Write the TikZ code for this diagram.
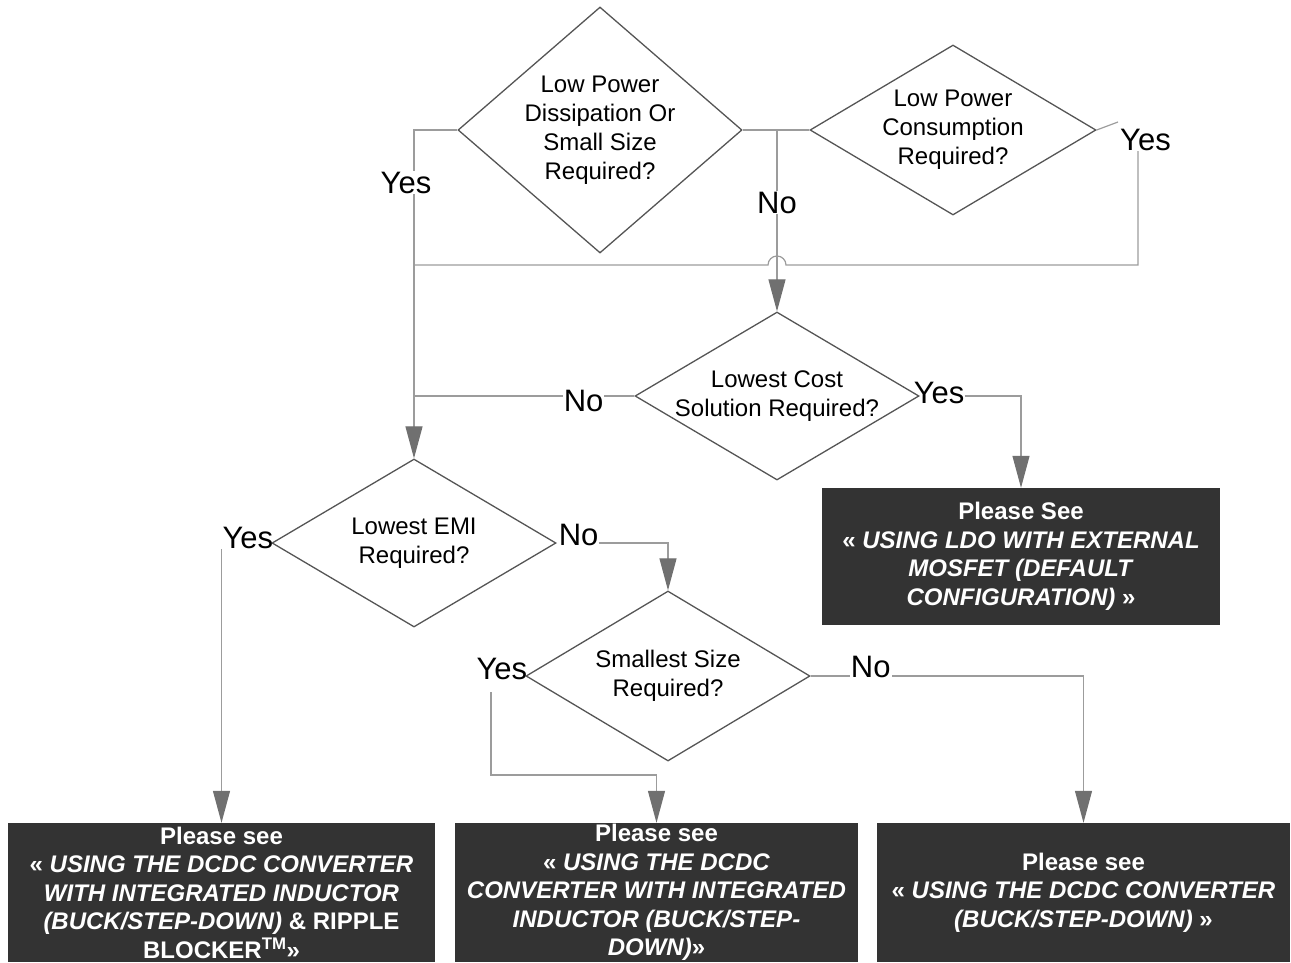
\documentclass[tikz,border=0pt]{standalone}
\usepackage{fontspec}
\setmainfont{Liberation Sans}
\usetikzlibrary{shapes.geometric,arrows.meta,positioning}
\definecolor{boxgray}{HTML}{333333}
\definecolor{linegray}{HTML}{9C9C9C}
\definecolor{edgegray}{HTML}{555555}
\definecolor{tipgray}{HTML}{707070}

\begin{document}
\begin{tikzpicture}[x=1pt, y=-1pt,
    decision/.style={diamond, draw=edgegray, line width=1.3pt, inner sep=0pt, aspect=1.68,
        align=center, font=\fontsize{24}{29}\selectfont},
    seebox/.style={rectangle, fill=boxgray, text=white, inner sep=0pt, align=center,
        font=\fontsize{24}{28.5}\selectfont\bfseries},
    conn/.style={draw=linegray, line width=1.2pt},
    arr/.style={-{Triangle[length=32pt, width=17pt, fill=tipgray, color=tipgray]}},
    ans/.style={font=\fontsize{31}{34}\selectfont, inner sep=1pt}]
    \useasboundingbox (0,0) rectangle (1291,962);

    % Decisions
    \node[decision, aspect=1.15, minimum width=284pt, minimum height=246pt] (dis) at (600,130)
        {Low Power\\Dissipation Or\\Small Size\\Required?};
    \node[decision, minimum width=286pt, minimum height=170pt] (cons) at (953,130)
        {Low Power\\Consumption\\Required?};
    \node[decision, minimum width=284pt, minimum height=168pt, inner sep=-3pt] (cost) at (777,396)
        {Lowest Cost\\Solution Required?};
    \node[decision, minimum width=284pt, minimum height=168pt] (emi) at (414,543)
        {Lowest EMI\\Required?};
    \node[decision, minimum width=284pt, minimum height=170pt] (size) at (668,676)
        {Smallest Size\\Required?};

    % Result boxes
    \node[seebox, minimum width=398pt, minimum height=137pt] (ldo) at (1021,556.5)
        {Please See\\« \textit{USING LDO WITH EXTERNAL}\\\textit{MOSFET (DEFAULT}\\\textit{CONFIGURATION)} »};
    \node[seebox, minimum width=427pt, minimum height=139pt] (buckrb) at (221.5,892.5)
        {Please see\\« \textit{USING THE DCDC CONVERTER}\\\textit{WITH INTEGRATED INDUCTOR}\\\textit{(BUCK/STEP-DOWN)} \& RIPPLE\\BLOCKER\textsuperscript{TM}»};
    \node[seebox, minimum width=403pt, minimum height=139pt] (buckind) at (656.5,892.5)
        {Please see\\« \textit{USING THE DCDC}\\\textit{CONVERTER WITH INTEGRATED}\\\textit{INDUCTOR (BUCK/STEP-}\\\textit{DOWN)}»};
    \node[seebox, minimum width=413pt, minimum height=139pt] (buck) at (1083.5,892.5)
        {Please see\\« \textit{USING THE DCDC CONVERTER}\\\textit{(BUCK/STEP-DOWN)} »};

    % Coordinates
    \coordinate (split) at (777,130);
    \coordinate (consTip) at (1118,122);
    \coordinate (back) at (1138,265);
    \coordinate (hop) at (786,265);
    \coordinate (ysz) at (491,692);
    \coordinate (ysz2) at (491,775);

    % --- Top row ---
    \draw[conn] (dis.east) -- (cons.west);
    \draw[conn, arr] (split) -- node[ans, fill=white, pos=0.40] {No} (cost.north);
    \draw[conn, arr] (dis.west) -| node[ans, fill=white, pos=0.58, xshift=-8pt] {Yes} (emi.north);

    % Yes from consumption, back round with a hop
    \node[ans, anchor=west, inner sep=0pt] (yescons) at ([xshift=2pt,yshift=-18pt]consTip) {Yes};
    \draw[conn] (cons.east) -- (consTip);
    \draw[conn] (yescons.south -| back) -- (back) -- (hop)
        arc[start angle=0, end angle=-180, radius=9] -- (emi.north |- back);

    % --- Lowest cost ---
    \draw[conn] (cost.west) -- node[ans, fill=white, pos=0.23, yshift=-5pt] {No} (cost.west -| emi.north);
    \node[ans, anchor=west, inner sep=0pt, yshift=3pt] (yescost) at ([xshift=-6pt]cost.east) {Yes};
    \draw[conn, arr] (yescost.east |- cost.east) -| (ldo.north);

    % --- Lowest EMI ---
    \node[ans, anchor=east, inner sep=0pt, yshift=5pt] (yesemi) at ([xshift=2pt]emi.west) {Yes};
    \draw[conn, arr] (yesemi.south -| buckrb.north) -- (buckrb.north);
    \node[ans, anchor=west, inner sep=0pt, yshift=8pt] (noemi) at ([xshift=2pt]emi.east) {No};
    \draw[conn, arr] (noemi.east |- emi.east) -| (size.north);

    % --- Smallest size ---
    \node[ans, anchor=east, inner sep=0pt, yshift=7pt] (yessize) at ([xshift=2pt]size.west) {Yes};
    \draw[conn, arr] (ysz) -- (ysz2) -| (buckind.north);
    \draw[conn, arr] (size.east) -| node[ans, fill=white, pos=0.11, yshift=9pt] {No} (buck.north);

\end{tikzpicture}
\end{document}
